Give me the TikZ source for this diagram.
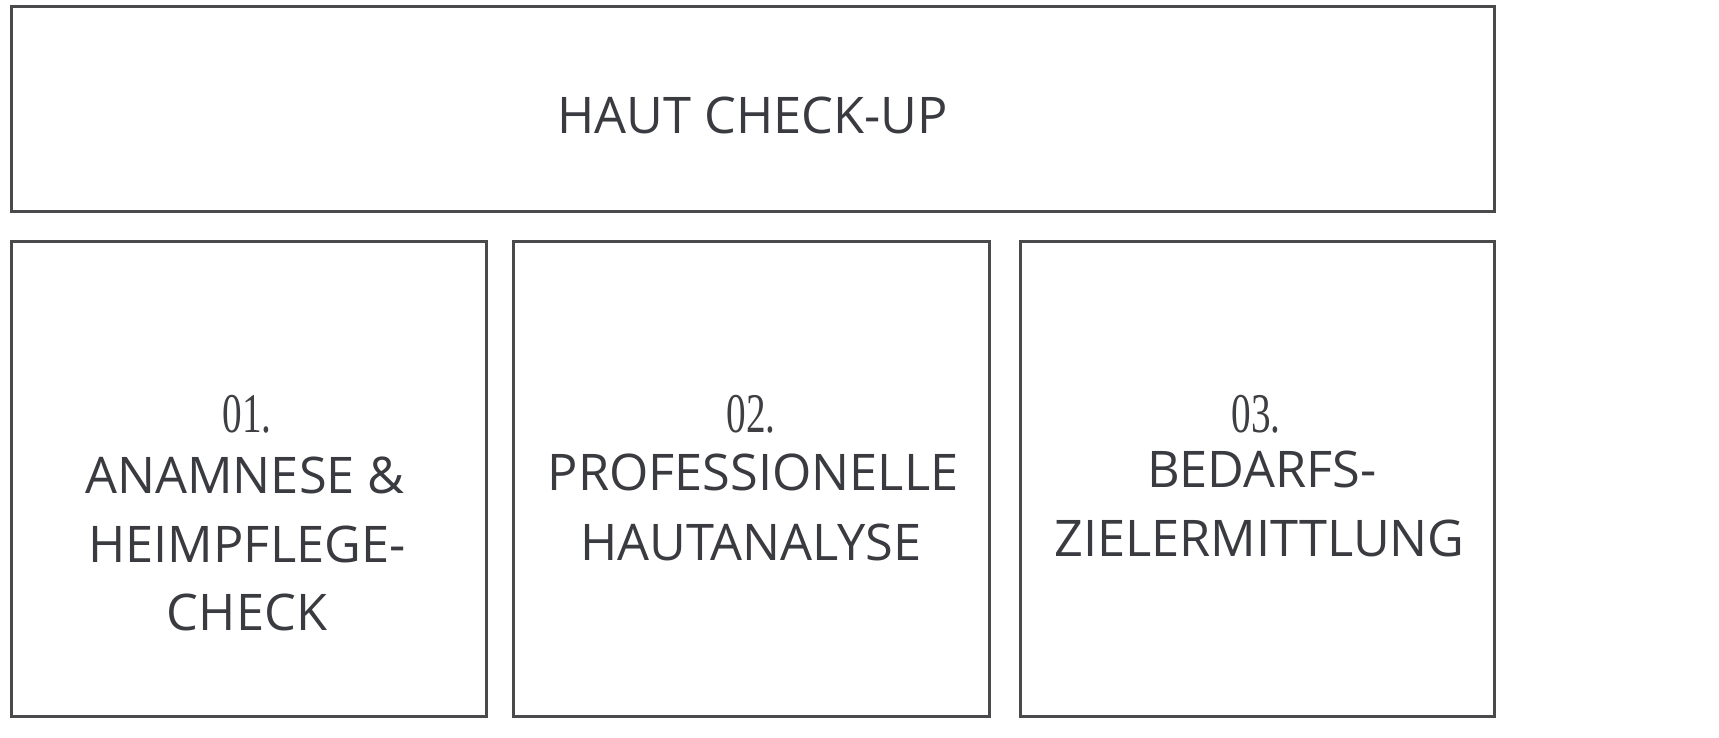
\documentclass[tikz,border=0pt]{standalone}
\usepackage{fontspec}
\setmainfont{Open Sans}
\newfontfamily\numfont[FakeStretch=0.7]{Liberation Serif}
\definecolor{boxline}{HTML}{4A4A4C}
\definecolor{txt}{HTML}{3A3B40}
\definecolor{numc}{HTML}{3E3F42}
\begin{document}
\begin{tikzpicture}[x=1pt,y=-1pt,
  box/.style={draw=boxline,line width=3pt,inner sep=0pt,outer sep=0pt,rectangle},
  lbl/.style={anchor=base,inner sep=0pt,text=txt,font=\fontsize{50.5}{60}\selectfont},
  num/.style={anchor=base,inner sep=0pt,text=numc,font=\numfont\fontsize{56}{60}\selectfont}]
\fill[white] (0,0) rectangle (1719,737);
\useasboundingbox (0,0) rectangle (1719,737);
% boxes
\node[box,minimum width=1483pt,minimum height=205pt] (top) at (752.5,108.5) {};
\node[box,minimum width=475pt,minimum height=475pt] (b1) at (248.5,478.5) {};
\node[box,minimum width=476pt,minimum height=475pt] (b2) at (751,478.5) {};
\node[box,minimum width=474pt,minimum height=475pt] (b3) at (1257,478.5) {};
% title
\node[lbl] (title) at (752.5,133) {HAUT CHECK-UP};
% box 1
\node[num] (n1) at (247,432) {01.};
\node[lbl] (t1a) at (245,493) {ANAMNESE \&};
\node[lbl] (t1b) at (247,562) {HEIMPFLEGE-};
\node[lbl] (t1c) at (247,630) {CHECK};
% box 2
\node[num] (n2) at (751,432) {02.};
\node[lbl] (t2a) at (753,490) {PROFESSIONELLE};
\node[lbl] (t2b) at (751,560) {HAUTANALYSE};
% box 3
\node[num] (n3) at (1256,432) {03.};
\node[lbl] (t3a) at (1262,487) {BEDARFS-};
\node[lbl] (t3b) at (1259.5,556) {ZIELERMITTLUNG};
\end{tikzpicture}
\end{document}
